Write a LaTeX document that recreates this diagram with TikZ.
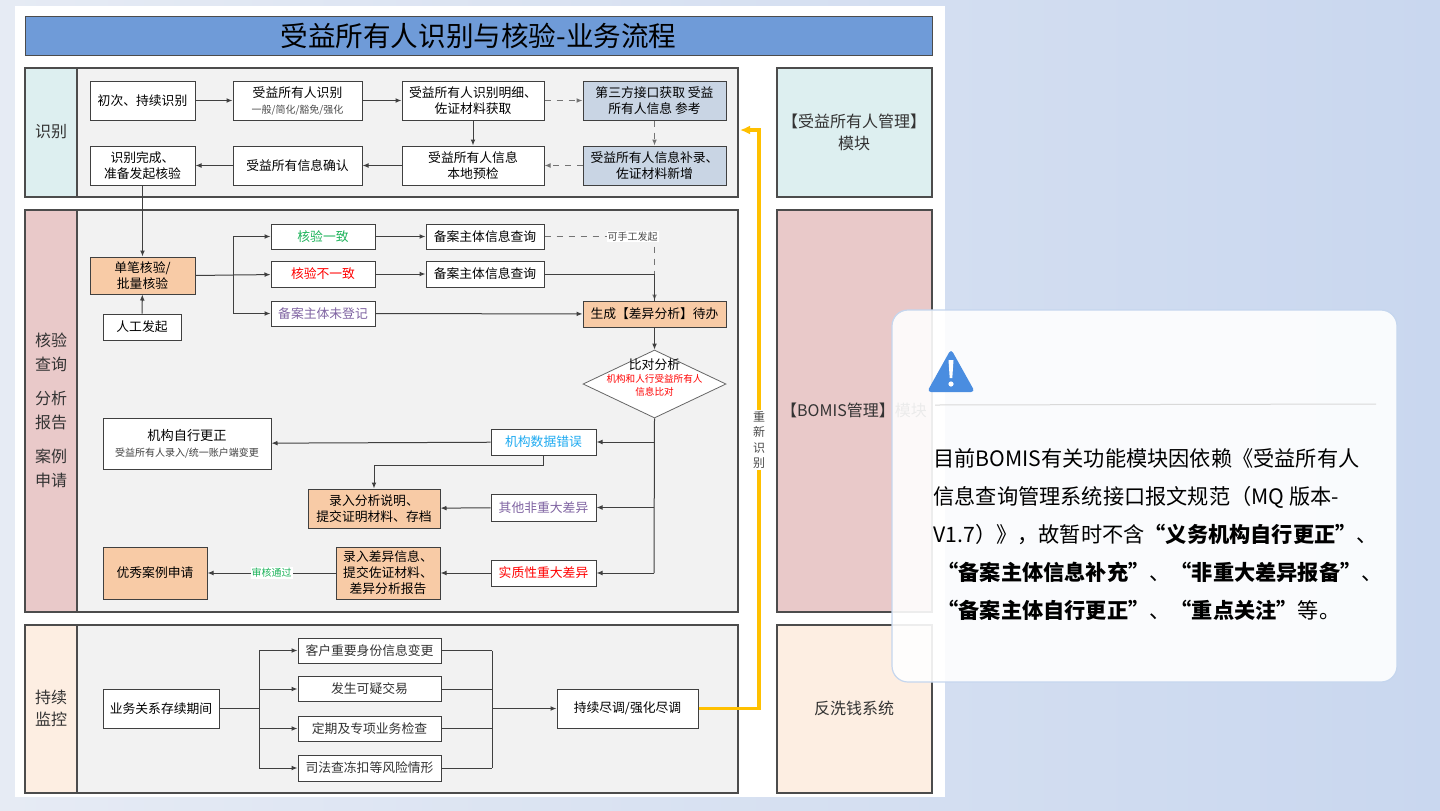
\documentclass[tikz,border=0pt]{standalone}
\usepackage{fontspec}
\setmainfont{Noto Sans CJK SC}
\usetikzlibrary{shapes.geometric,arrows.meta}
\definecolor{titleblue}{HTML}{6F9BD8}
\definecolor{lanegray}{HTML}{F2F2F2}
\definecolor{cyanl}{HTML}{DDEFF0}
\definecolor{pinkl}{HTML}{E9C9C9}
\definecolor{peachl}{HTML}{FDEEE2}
\definecolor{orangeb}{HTML}{F8CBA6}
\definecolor{blueb}{HTML}{C9D5E4}
\definecolor{greent}{HTML}{1DB35A}
\definecolor{purplet}{HTML}{8064A2}
\definecolor{skyt}{HTML}{1EAAF1}
\definecolor{yel}{HTML}{FFC000}
\definecolor{warn}{HTML}{4A8DE0}
\definecolor{bgl}{HTML}{E6EBF4}
\definecolor{bgr}{HTML}{C9D7EF}
\definecolor{callb}{HTML}{C5D6EE}
\begin{document}
\begin{tikzpicture}[x=0.5pt,y=-0.5pt,
  sz/.style 2 args={minimum width=#1*0.5pt,minimum height=#2*0.5pt},
  box/.style={draw=black!75,fill=white,line width=0.5pt,inner sep=1pt,align=center,font=\fontsize{6.4}{8}\selectfont},
  ob/.style={box,fill=orangeb},
  bb/.style={box,fill=blueb},
  ar/.style={-{Latex[length=3pt,width=2.4pt]},line width=0.5pt,draw=black!75},
  da/.style={ar,dashed,draw=black!55},
  ln/.style={line width=0.5pt,draw=black!75},
  lane/.style={draw=black!70,line width=0.6pt},
  lab/.style={font=\fontsize{8}{11}\selectfont,align=center,text=black!80},
  ct/.style={anchor=west,inner sep=0pt,font=\fontsize{10.6}{12}\selectfont}]
\useasboundingbox (0,0) rectangle (1440,810);
\shade[left color=bgl,right color=bgr] (0,0) rectangle (1440,810);
\fill[white] (15,6) rectangle (945,797);
% title
\node[draw=black!70,fill=titleblue,sz={907}{39},font=\fontsize{13.8}{15}\selectfont] (title) at (478.5,35.5) {受益所有人识别与核验-业务流程};
% lanes
\foreach \ya/\yb/\c in {68/197/cyanl,210/612/pinkl,625/793/peachl}{
  \fill[lanegray] (77,\ya) rectangle (738,\yb);
  \fill[\c] (25,\ya) rectangle (77,\yb);
  \draw[lane] (25,\ya) rectangle (738,\yb);
  \draw[lane] (77,\ya) -- (77,\yb);
  \fill[\c] (777,\ya) rectangle (932,\yb);
  \draw[lane] (777,\ya) rectangle (932,\yb);
}
\node[lab] (l1) at (51,132) {识别};
\node[lab,font=\fontsize{8}{12}\selectfont] (l2) at (51,410) {核验\\查询\\[5pt]分析\\报告\\[5pt]案例\\申请};
\node[lab] (l3) at (51,708) {持续\\监控};
\node[lab] (r1) at (854,132) {【受益所有人管理】\\模块};
\node[lab] (r2) at (854,410) {【BOMIS管理】模块};
\node[lab] (r3) at (854,708) {反洗钱系统};
% identification
\node[box,sz={105}{39}] (n1) at (142.5,100.5) {初次、持续识别};
\node[box,sz={129}{39}] (n2) at (297.5,100.5) {受益所有人识别\\{\fontsize{5}{6}\selectfont\color{black!70}一般/简化/豁免/强化}};
\node[box,sz={142}{39}] (n3) at (473,100.5) {受益所有人识别明细、\\佐证材料获取};
\node[bb,sz={143}{39}] (n4) at (654.5,100.5) {第三方接口获取\ 受益\\所有人信息\ 参考};
\node[bb,sz={143}{39}] (n5) at (654.5,165.5) {受益所有人信息补录、\\佐证材料新增};
\node[box,sz={142}{39}] (n6) at (473,165.5) {受益所有人信息\\本地预检};
\node[box,sz={129}{39}] (n7) at (297.5,165.5) {受益所有信息确认};
\node[box,sz={105}{39}] (n8) at (142.5,165.5) {识别完成、\\准备发起核验};
\draw[ar] (n1) -- (n2); \draw[ar] (n2) -- (n3);
\draw[da] (n3) -- (n4); \draw[da] (n4) -- (n5);
\draw[ar] (n3) -- (n6); \draw[da] (n5) -- (n6);
\draw[ar] (n6) -- (n7); \draw[ar] (n7) -- (n8);
% verification
\node[ob,sz={105}{37}] (v0) at (142.5,275.5) {单笔核验/\\批量核验};
\node[box,sz={78}{26}] (v00) at (142,327) {人工发起};
\draw[ar] (n8) -- (v0); \draw[ar] (v00) -- (v0);
\node[box,sz={104}{25},text=greent] (v1) at (323,236.5) {核验一致};
\node[box,sz={104}{26},text=red] (v2) at (323,274) {核验不一致};
\node[box,sz={104}{25},text=purplet] (v3) at (323,313.5) {备案主体未登记};
\node[box,sz={118}{25}] (q1) at (485,236.5) {备案主体信息查询};
\node[box,sz={118}{26}] (q2) at (485,274) {备案主体信息查询};
\node[ob,sz={143}{26}] (g) at (654.5,314) {生成【差异分析】待办};
\coordinate (br) at (233,275);
\draw[ln] (v0.east) -- (br);
\draw[ar] (br) |- (v1); \draw[ar] (br) -- (v2); \draw[ar] (br) |- (v3);
\draw[ar] (v1) -- (q1); \draw[ar] (v2) -- (q2);
\draw[da] (q1.east) -| node[pos=0.4,fill=white,inner sep=0.5pt,font=\fontsize{5}{6}\selectfont,text=black!70]{可手工发起} (g.north);
\draw[ln] (q2.east) -| (654,301);
\draw[ar] (v3) -- (g);
\node[diamond,draw=black!60,fill=white,aspect=2.1,minimum width=143*0.5pt,minimum height=68*0.5pt,inner sep=0pt,align=center] (d) at (654.5,384) {};
\node[align=center,font=\fontsize{6.4}{7.5}\selectfont] (dt) at (654.5,378) {比对分析\\[-1pt]{\fontsize{4.8}{6}\selectfont\color{red}机构和人行受益所有人}\\[-1pt]{\fontsize{4.8}{6}\selectfont\color{red}信息比对}};
\draw[ar] (g) -- (d);
\node[box,sz={105}{26},text=skyt] (e1) at (543.5,442) {机构数据错误};
\node[box,sz={105}{27},text=purplet] (e2) at (543.5,507.5) {其他非重大差异};
\node[box,sz={105}{26},text=red] (e3) at (543.5,573) {实质性重大差异};
\coordinate (dd) at (654,573);
\draw[ln] (d.south) -- (dd);
\draw[ar] (654,442) -- (e1); \draw[ar] (654,507.5) -- (e2); \draw[ar] (dd) -- (e3);
\node[box,sz={168}{51}] (f1) at (187,443.5) {{\fontsize{6.6}{8}\selectfont 机构自行更正}\\{\fontsize{5}{6}\selectfont\color{black!75}受益所有人录入/统一账户端变更}};
\node[ob,sz={132}{39}] (f2) at (374,508.5) {录入分析说明、\\提交证明材料、存档};
\node[ob,sz={104}{52}] (f3) at (388,573) {录入差异信息、\\提交佐证材料、\\差异分析报告};
\node[ob,sz={104}{52}] (f4) at (155,573) {优秀案例申请};
\draw[ar] (e1) -- (f1);
\draw[ar] (e1.south) |- (374,465) -- (f2.north);
\draw[ar] (e2) -- (f2); \draw[ar] (e3) -- (f3);
\draw[ar] (f3) -- node[fill=white,inner sep=0.5pt,font=\fontsize{5}{6}\selectfont,text=greent]{审核通过} (f4);
% monitoring
\node[box,sz={116}{39}] (m0) at (161,708.5) {业务关系存续期间};
\node[box,sz={143}{25},text=black!80] (m1) at (369.5,650.5) {客户重要身份信息变更};
\node[box,sz={143}{25},text=black!80] (m2) at (369.5,689) {发生可疑交易};
\node[box,sz={143}{25},text=black!80] (m3) at (369.5,728.5) {定期及专项业务检查};
\node[box,sz={143}{26},text=black!80] (m4) at (369.5,768) {司法查冻扣等风险情形};
\node[box,sz={141}{39}] (m5) at (627.5,708.5) {持续尽调/强化尽调};
\coordinate (mb) at (259,708.5);
\coordinate (mj) at (492,708.5);
\draw[ln] (m0) -- (mb);
\foreach \m in {m1,m2,m3,m4}{ \draw[ar] (mb|-\m) -- (\m.west); \draw[ln] (\m.east) -- (mj|-\m); }
\draw[ln] (mb|-m1) -- (mb|-m4); \draw[ln] (mj|-m1) -- (mj|-m4);
\draw[ar] (mj) -- (m5);
% yellow loop
\coordinate (ytop) at (759,130);
\coordinate (yend) at (740,130);
\draw[yel,line width=1.8pt,-{Latex[length=5pt,width=4.5pt]}] (m5.east) -| (ytop) -- (yend);
\node[fill=white,inner sep=1pt,align=center,font=\fontsize{6}{7.6}\selectfont,text=black!70] (cx) at (759,440) {重\\新\\识\\别};
% callout
\fill[white,opacity=0.9,rounded corners=8pt] (892,310) rectangle (1397,682);
\draw[callb,line width=0.6pt,rounded corners=8pt] (892,310) rectangle (1397,682);
\draw[black!15,line width=0.5pt] (935,405) -- (1376,404);
\fill[warn,rounded corners=2pt] (951,349) -- (975,392) -- (927,392) -- cycle;
\fill[white] (948.5,360) -- (953.5,360) -- (952.3,378) -- (949.7,378) -- cycle;
\fill[white] (951,384) circle (2.6);
\node[ct] (c1) at (933,458) {目前BOMIS有关功能模块因依赖《受益所有人};
\node[ct] (c2) at (933,497) {信息查询管理系统接口报文规范（MQ 版本-};
\node[ct] (c3) at (933,534) {V1.7）》，故暂时不含\textbf{“义务机构自行更正”}、};
\node[ct] (c4) at (937,572) {\textbf{“备案主体信息补充”}、\textbf{“非重大差异报备”}、};
\node[ct] (c5) at (937,610) {\textbf{“备案主体自行更正”}、\textbf{“重点关注”}等。};
\end{tikzpicture}
\end{document}
